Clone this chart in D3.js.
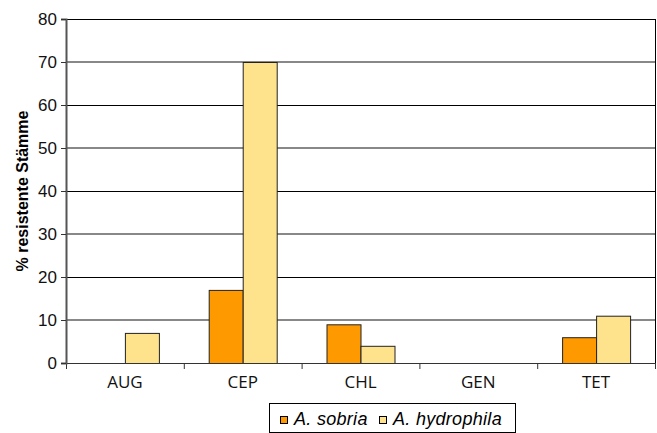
<!DOCTYPE html>
<html><head><meta charset="utf-8">
<script src="https://cdn.jsdelivr.net/npm/d3@7"></script>
<style>body{margin:0;background:#fff;}svg{display:block;}</style>
</head><body>
<svg id="c" width="657" height="433"></svg>
<script>
const categories = ["AUG","CEP","CHL","GEN","TET"];
const seriesNames = ["A. sobria","A. hydrophila"];
const sobria = [0,17,9,0,6];
const hydrophila = [7,70,4,0,11];
const yTicks = [0,10,20,30,40,50,60,70,80];
const colors = ["#FF9900","#FFE38C"];

const svg = d3.select("#c");
const L=66, R=655, T=19, B=363;
const x = d3.scaleBand().domain(categories).range([L,R]);
const x1 = d3.scaleBand().domain([0,1]).range([0,68]);
const y = d3.scaleLinear().domain([0,80]).range([B,T]);

// gridlines
svg.append("g").selectAll("line").data(yTicks.filter(d=>d>0)).join("line")
  .attr("x1",L).attr("x2",R)
  .attr("y1",(d,i)=>i%2===0?Math.round(y(d)):Math.round(y(d))+0.5)
  .attr("y2",(d,i)=>i%2===0?Math.round(y(d)):Math.round(y(d))+0.5)
  .attr("stroke",(d,i)=>i%2===0?"#888":"#000").attr("stroke-width",(d,i)=>i%2===0?2:1);

// right border
svg.append("line").attr("x1",R+0.5).attr("x2",R+0.5).attr("y1",T).attr("y2",B+1).attr("stroke","#000");

// bars
const series=[sobria,hydrophila];
const g = svg.append("g");
categories.forEach((c,ci)=>{
  series.forEach((s,si)=>{
    const v=s[ci];
    if(v<=0) return;
    g.append("rect")
      .attr("x",x(c)+(x.bandwidth()-68)/2+x1(si)+0.5)
      .attr("y",y(v)+0.5)
      .attr("width",x1.bandwidth())
      .attr("height",B-y(v))
      .attr("fill",colors[si]).attr("stroke","#222").attr("stroke-width",1);
  });
});

// x axis
svg.append("line").attr("x1",L).attr("x2",R).attr("y1",B+0.5).attr("y2",B+0.5).attr("stroke","#333");
svg.append("g").selectAll("line").data(d3.range(categories.length+1)).join("line")
  .attr("x1",i=>L+i*x.step()+0.5).attr("x2",i=>L+i*x.step()+0.5).attr("y1",B).attr("y2",B+6).attr("stroke","#333");
svg.append("g").selectAll("text").data(categories).join("text")
  .attr("x",d=>x(d)+x.bandwidth()/2).attr("y",388)
  .attr("text-anchor","middle").attr("font-family","Open Sans").attr("font-size",17).attr("fill","#111").text(d=>d);

// y axis
const yAxis = d3.axisLeft(y).tickValues(yTicks).tickSize(5).tickPadding(4);
const ya = svg.append("g").attr("transform",`translate(${L},0)`).call(yAxis);
ya.select(".domain").attr("stroke","#555").attr("stroke-width",2);
ya.selectAll(".tick line").attr("stroke","#333");
ya.selectAll("text").attr("font-family","Liberation Sans, Arial").attr("font-size",17).attr("fill","#111");

svg.append("text").attr("transform",`translate(28,${(T+B)/2}) rotate(-90)`)
  .attr("text-anchor","middle").attr("font-family","Liberation Sans, Arial").attr("font-weight","bold")
  .attr("font-size",16).text("% resistente Stämme");

// legend
const lg = svg.append("g");
lg.append("rect").attr("x",269.5).attr("y",403.5).attr("width",246).attr("height",29).attr("fill","#fff").attr("stroke","#000");
const lx=[280,379];
seriesNames.forEach((n,i)=>{
  lg.append("rect").attr("x",lx[i]+0.5).attr("y",416.5).attr("width",7).attr("height",7).attr("fill",colors[i]).attr("stroke","#000");
  lg.append("text").attr("x",lx[i]+14).attr("y",425).attr("font-family","Liberation Sans, Arial").attr("font-style","italic")
    .attr("font-size",18).attr("letter-spacing",0.3).text(n);
});
</script>
</body></html>
